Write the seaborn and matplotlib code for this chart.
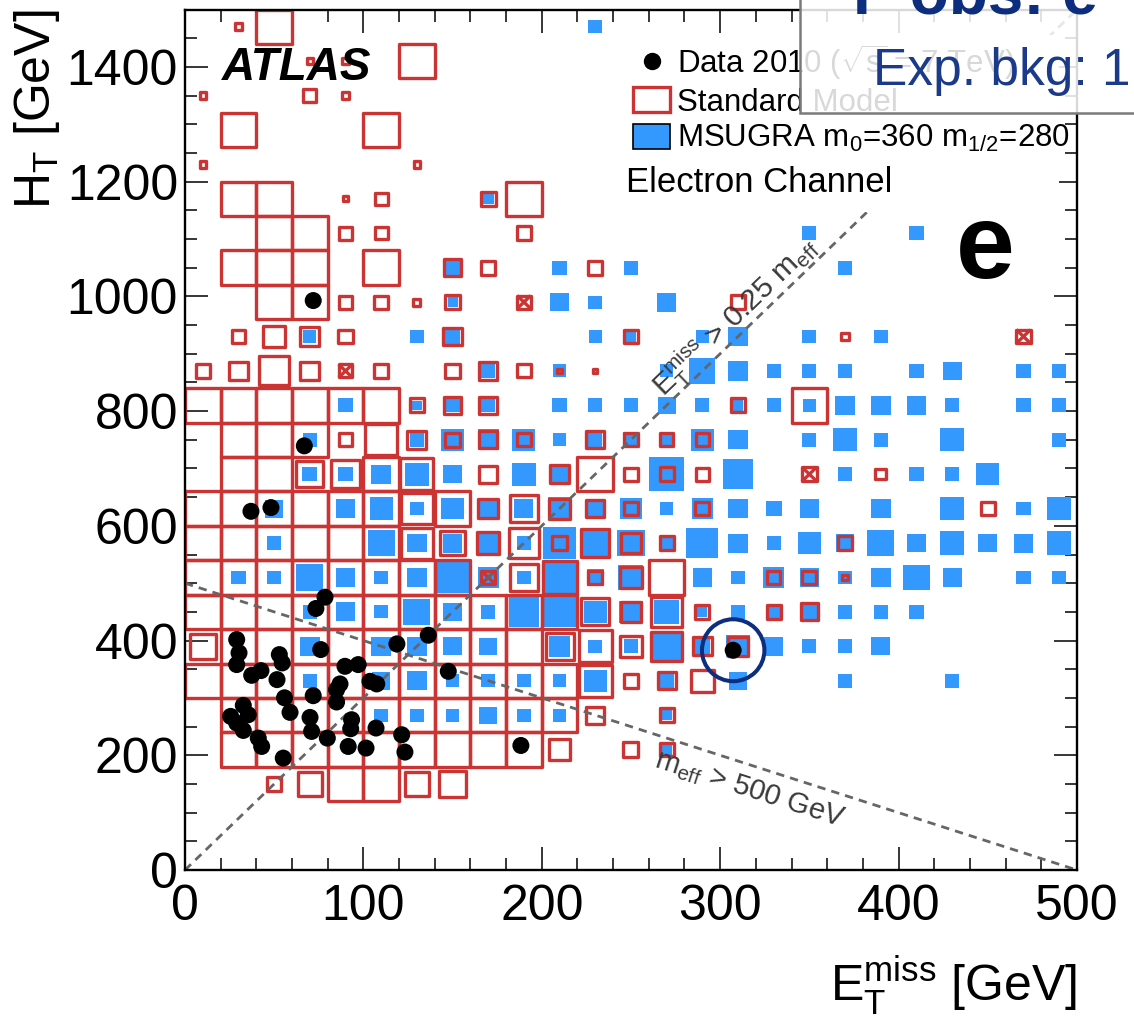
import numpy as np
import pandas as pd
import matplotlib
matplotlib.use("Agg")
import matplotlib.pyplot as plt
from matplotlib.patches import Rectangle, Ellipse, Patch
from matplotlib.lines import Line2D
from matplotlib.collections import PatchCollection, LineCollection
import seaborn as sns

# ---------------------------------------------------------------- binning
met_edges = np.arange(0, 501, 20)      # E_T^miss bins [GeV]
ht_edges = np.arange(0, 1501, 60)      # H_T bins [GeV]

# Relative box size per bin (1 = full bin). Rows listed from the highest
# H_T bin down to the lowest; columns from E_T^miss = 0 to 500 GeV.
# Negative entries are bins with negative content (drawn crossed).
sm_rows = [
    [0, .2, 1, 0, 0, 0, 0, 0, 0, 0, 0, 0, 0, 0, 0, 0, 0, 0, 0, 0, 0, 0, 0, 0, 0],
    [0, 0, 0, .18, .18, 0, 1, 0, 0, 0, 0, 0, 0, 0, 0, 0, 0, 0, 0, 0, 0, 0, 0, 0, 0],
    [.18, 0, 0, .36, .18, 0, 0, 0, 0, 0, 0, 0, 0, 0, 0, 0, 0, 0, 0, 0, 0, 0, 0, 0, 0],
    [0, 1, 0, 0, 0, 1, 0, 0, 0, 0, 0, 0, 0, 0, 0, 0, 0, 0, 0, 0, 0, 0, 0, 0, 0],
    [.18, 0, 0, 0, 0, 0, .18, 0, 0, 0, 0, 0, 0, 0, 0, 0, 0, 0, 0, 0, 0, 0, 0, 0, 0],
    [0, 1, 1, 0, .15, .36, 0, 0, .42, 1, 0, 0, 0, 0, 0, 0, 0, 0, 0, 0, 0, 0, 0, 0, 0],
    [0, 0, 1, 1, .38, .36, 0, 0, 0, .4, 0, 0, 0, 0, 0, 0, 0, 0, 0, 0, 0, 0, 0, 0, 0],
    [0, 1, 1, 1, 0, 1, 0, .49, .4, 0, 0, .4, 0, 0, 0, 0, 0, 0, 0, 0, 0, 0, 0, 0, 0],
    [0, 0, 1, 1, .38, .38, .2, .4, 0, -.38, 0, 0, 0, 0, 0, .42, 0, 0, 0, 0, 0, 0, 0, 0, 0],
    [0, .39, .6, .53, .4, 0, 0, .51, 0, 0, 0, 0, .4, 0, 0, 0, 0, 0, .2, 0, 0, 0, 0, -.4, 0],
    [.39, .51, .84, .53, -.38, .4, 0, .4, .5, .38, .12, .1, 0, 0, 0, 0, 0, 0, 0, 0, 0, 0, 0, 0, 0],
    [1, 1, 1, 1, 1, 1, .4, .5, .5, 0, 0, 0, 0, 0, 0, .4, 0, 1, 0, 0, 0, 0, 0, 0, 0],
    [0, 1, 1, 1, .38, .89, .53, .4, .5, .38, 0, .5, .38, .38, .38, 0, 0, 0, 0, 0, 0, 0, 0, 0, 0],
    [0, 1, 1, .75, .83, 1, .92, 0, .5, 0, .51, 1, .38, .4, .38, 0, 0, -.42, 0, .3, 0, 0, 0, 0, 0],
    [1, 1, 1, 1, 1, 1, .9, 1, .55, .8, .58, .5, .4, 0, .4, 0, 0, 0, 0, 0, 0, 0, .38, 0, 0],
    [1, 1, 1, 1, 1, 1, .9, .7, .62, .86, .4, .79, .56, .4, 0, 0, 0, 0, .39, 0, 0, 0, 0, 0, 0],
    [1, 1, 1, 1, 1, 1, 1, 1, -.4, .8, .95, .39, .6, 1, 0, 0, .38, .4, .15, 0, 0, 0, 0, 0, 0],
    [1, 1, 1, 1, 1, 1, 1, 1, 1, 1, 1, .79, .58, .87, .4, 0, .4, .49, 0, 0, 0, 0, 0, 0, 0],
    [.72, 1, 1, 1, 1, 1, 1, 1, 1, 1, .78, .93, .62, .85, .52, .55, 0, 0, 0, 0, 0, 0, 0, 0, 0],
    [1, 1, 1, 1, 1, 1, 1, 1, 1, 1, 1, .93, .4, .5, .63, 0, 0, 0, 0, 0, 0, 0, 0, 0, 0],
    [0, 1, 1, 1, 1, 1, 1, 1, 1, 1, 1, .5, 0, .4, 0, 0, 0, 0, 0, 0, 0, 0, 0, 0, 0],
    [0, 1, 1, 1, 1, 1, 1, 1, 1, 1, .6, 0, .42, .4, 0, 0, 0, 0, 0, 0, 0, 0, 0, 0, 0],
    [0, 0, .38, .68, 1, 1, .68, .78, 0, 0, 0, 0, 0, 0, 0, 0, 0, 0, 0, 0, 0, 0, 0, 0, 0],
    [0, 0, 0, 0, 0, 0, 0, 0, 0, 0, 0, 0, 0, 0, 0, 0, 0, 0, 0, 0, 0, 0, 0, 0, 0],
    [0, 0, 0, 0, 0, 0, 0, 0, 0, 0, 0, 0, 0, 0, 0, 0, 0, 0, 0, 0, 0, 0, 0, 0, 0],
]

susy_rows = [
    [0, 0, 0, 0, 0, 0, 0, 0, 0, 0, 0, .38, 0, 0, 0, 0, 0, 0, 0, 0, 0, 0, 0, 0, 0],
    [0, 0, 0, 0, 0, 0, 0, 0, 0, 0, 0, 0, 0, 0, 0, 0, 0, 0, 0, 0, 0, 0, 0, 0, 0],
    [0, 0, 0, 0, 0, 0, 0, 0, 0, 0, 0, 0, 0, 0, 0, 0, 0, 0, 0, 0, 0, 0, 0, 0, 0],
    [0, 0, 0, 0, 0, 0, 0, 0, 0, 0, 0, 0, 0, 0, 0, 0, 0, 0, 0, 0, 0, 0, 0, 0, 0],
    [0, 0, 0, 0, 0, 0, 0, 0, 0, 0, 0, 0, 0, 0, 0, 0, 0, 0, 0, 0, 0, 0, 0, 0, 0],
    [0, 0, 0, 0, 0, 0, 0, 0, .3, 0, 0, 0, 0, 0, 0, 0, 0, 0, 0, 0, 0, 0, 0, 0, 0],
    [0, 0, 0, 0, 0, 0, 0, 0, 0, 0, 0, 0, 0, 0, 0, 0, 0, .4, 0, 0, .4, 0, 0, 0, 0],
    [0, 0, 0, 0, 0, 0, 0, .4, 0, 0, .4, 0, .4, 0, 0, 0, 0, 0, .4, 0, 0, 0, 0, 0, 0],
    [0, 0, 0, 0, 0, 0, 0, .28, 0, 0, .52, .38, 0, .55, 0, 0, 0, 0, 0, 0, 0, 0, 0, 0, 0],
    [0, 0, 0, .37, 0, 0, .38, .41, 0, 0, 0, .36, .3, 0, .38, .56, 0, .4, 0, .4, 0, 0, 0, 0, 0],
    [0, 0, 0, 0, 0, 0, 0, 0, .4, 0, .38, 0, 0, .38, .73, .56, .4, .4, .4, 0, .4, .53, 0, .4, .4],
    [0, 0, 0, 0, .4, 0, .28, .4, .4, 0, .4, .4, .4, .5, .4, .3, .4, .38, .55, .55, .55, .4, 0, .4, .4],
    [0, 0, 0, .4, 0, 0, .4, .65, .6, .64, .38, .4, .47, .3, .65, .55, 0, .4, .67, .4, 0, .68, 0, 0, .4],
    [0, 0, 0, .42, .4, .56, .67, .53, 0, .67, .45, 0, 0, 1, 0, .86, 0, 0, .4, 0, .4, .4, .64, 0, 0],
    [0, 0, .52, 0, .54, .65, .4, .63, .5, .53, .65, .45, .6, .38, .6, .55, .45, .54, 0, .55, 0, .65, 0, .4, .68],
    [0, 0, .38, 0, 0, .75, .54, .55, .55, .38, .93, .8, .78, .4, .89, .55, .4, .64, .51, .76, .54, .68, .53, .55, .68],
    [0, .4, .4, .76, .54, .38, .54, .93, .6, .38, .9, .47, .7, 0, .53, .4, .6, .54, .38, .55, .75, .53, 0, .4, .4],
    [0, 0, 0, .4, .55, .38, .75, .53, .4, .86, .9, .65, .65, .7, .28, .4, .4, .45, .4, .4, .4, 0, 0, 0, 0],
    [0, 0, 0, .56, 0, .55, .54, .53, .5, 0, .6, .38, .4, .78, .45, .65, .55, .4, .4, .53, 0, 0, 0, 0, 0],
    [0, 0, 0, .4, 0, .52, .54, .38, .38, .38, .38, .65, 0, .4, 0, .53, 0, 0, .4, 0, 0, .4, 0, 0, 0],
    [0, 0, 0, 0, 0, .38, .38, .38, .5, .38, .38, 0, 0, .3, 0, 0, 0, 0, 0, 0, 0, 0, 0, 0, 0],
    [0, 0, 0, 0, 0, 0, 0, 0, 0, 0, 0, 0, 0, .3, 0, 0, 0, 0, 0, 0, 0, 0, 0, 0, 0],
    [0, 0, 0, 0, 0, 0, 0, 0, 0, 0, 0, 0, 0, 0, 0, 0, 0, 0, 0, 0, 0, 0, 0, 0, 0],
    [0, 0, 0, 0, 0, 0, 0, 0, 0, 0, 0, 0, 0, 0, 0, 0, 0, 0, 0, 0, 0, 0, 0, 0, 0],
    [0, 0, 0, 0, 0, 0, 0, 0, 0, 0, 0, 0, 0, 0, 0, 0, 0, 0, 0, 0, 0, 0, 0, 0, 0],
]

# Selected electron-channel events (E_T^miss, H_T) in GeV
data_met = [71.9, 66.9, 37.0, 48.2, 78.5, 73.4, 29.0, 30.3, 29.0, 37.4,
            42.6, 52.9, 54.5, 51.6, 55.8, 58.9, 32.7, 25.6, 35.5, 29.0,
            32.7, 41.1, 43.0, 55.1, 76.1, 71.9, 70.1, 71.0, 79.8, 89.7,
            97.1, 86.9, 85.0, 85.0, 93.4, 92.9, 91.5, 101.5, 103.7, 107.5,
            107.1, 118.8, 121.5, 123.3, 136.4, 147.6, 188.3, 307.3]
data_ht = [992.7, 739.4, 625.3, 631.8, 475.6, 455.9, 401.7, 378.5, 358.1, 339.4,
           347.6, 375.5, 361.0, 331.9, 300.2, 274.8, 287.0, 267.8, 270.7, 256.2,
           243.3, 230.0, 215.4, 195.1, 384.3, 303.9, 266.0, 241.6, 230.0, 355.1,
           358.1, 324.4, 314.4, 292.9, 262.0, 246.3, 215.4, 212.6, 328.9, 324.4,
           247.5, 394.2, 235.8, 205.6, 409.3, 346.4, 217.1, 383.1]
highlighted_event = 47          # event marked with a circle

met_fraction_cut = 0.25         # E_T^miss > 0.25 m_eff
meff_cut = 500.0                # m_eff > 500 GeV

legend_labels = [r"Data 2010 ($\mathregular{\sqrt{s}}$ = 7 TeV)",
                 "Standard Model",
                 r"MSUGRA m$\mathregular{_{0}}$=360 m$\mathregular{_{1/2}}$=280"]

# ---------------------------------------------------------------- style
RED = "#cc3333"
BLUE = "#3399ff"
NAVY = "#0d2d7e"

sns.set_theme(style="ticks")
plt.rcParams["font.family"] = ["Liberation Sans", "DejaVu Sans"]
plt.rcParams["mathtext.fontset"] = "custom"
plt.rcParams["mathtext.rm"] = "Liberation Sans"
plt.rcParams["mathtext.it"] = "Liberation Sans:italic"
plt.rcParams["mathtext.bf"] = "Liberation Sans:bold"
for key in ("text.color", "axes.labelcolor", "xtick.color", "ytick.color",
            "axes.edgecolor"):
    plt.rcParams[key] = "black"

fig = plt.figure(figsize=(11.34, 10.25), dpi=100)
ax = fig.add_axes([0.1631, 0.1512, 0.7866, 0.8395])
ax.set_xlim(met_edges[0], met_edges[-1])
ax.set_ylim(ht_edges[0], ht_edges[-1])


def bin_boxes(rows):
    grid = np.array(rows, dtype=float)[::-1]
    rects, crosses = [], []
    for j in range(grid.shape[0]):
        for i in range(grid.shape[1]):
            v = grid[j, i]
            if v == 0:
                continue
            bw = met_edges[i + 1] - met_edges[i]
            bh = ht_edges[j + 1] - ht_edges[j]
            cx = met_edges[i] + bw / 2
            cy = ht_edges[j] + bh / 2
            w, h = abs(v) * bw, abs(v) * bh
            rects.append(Rectangle((cx - w / 2, cy - h / 2), w, h))
            if v < 0:
                crosses.append([(cx - w / 2, cy - h / 2), (cx + w / 2, cy + h / 2)])
                crosses.append([(cx - w / 2, cy + h / 2), (cx + w / 2, cy - h / 2)])
    return rects, crosses


susy_rects, _ = bin_boxes(susy_rows)
ax.add_collection(PatchCollection(susy_rects, facecolor=BLUE, edgecolor="none",
                                  zorder=1))
sm_rects, sm_cross = bin_boxes(sm_rows)
ax.add_collection(PatchCollection(sm_rects, facecolor="none", edgecolor=RED,
                                  linewidth=2.4, zorder=2))
ax.add_collection(LineCollection(sm_cross, colors=RED, linewidths=2.4, zorder=2))

# ---------------------------------------------------------------- cut lines
met_line = np.array([met_edges[0], met_edges[-1]], dtype=float)
ht_frac = met_line * (1 - met_fraction_cut) / met_fraction_cut
ht_meff = meff_cut - met_line
for yy in (ht_frac, ht_meff):
    ax.plot(met_line, yy, color="#666666", lw=2.0, ls=(0, (3.0, 2.2)), zorder=3)

# legend background
ax.add_patch(Rectangle((0.49, 0.765), 0.49, 0.205, transform=ax.transAxes,
                       facecolor="white", edgecolor="none", zorder=4))

# ---------------------------------------------------------------- data
events = pd.DataFrame({"met": data_met, "ht": data_ht})
sns.scatterplot(data=events, x="met", y="ht", color="black", s=150,
                edgecolor="none", zorder=10, legend=False, ax=ax)

hx, hy = data_met[highlighted_event], data_ht[highlighted_event]
ax.add_patch(Ellipse((hx, hy), width=35, height=108, facecolor="none",
                     edgecolor=NAVY, lw=2.9, zorder=11))

# ---------------------------------------------------------------- axes
ax.set_xticks(np.arange(0, 501, 100))
ax.set_yticks(np.arange(0, 1401, 200))
ax.set_xticks(np.arange(0, 501, 20), minor=True)
ax.set_yticks(np.arange(0, 1501, 50), minor=True)
ax.tick_params(which="both", direction="in", top=True, right=True,
               width=1.1, color="black", labelsize=36, labelcolor="black")
ax.tick_params(which="major", length=16.5)
ax.tick_params(which="minor", length=8.6)
ax.tick_params(axis="x", which="major", pad=10)
ax.tick_params(axis="y", which="major", pad=5)
for sp in ax.spines.values():
    sp.set_linewidth(1.7)
    sp.set_color("black")
    sp.set_zorder(12)

ax.set_xlabel(r"$\mathregular{E_{T}^{miss}}$ [GeV]", fontsize=36, loc="right",
              color="black")
ax.xaxis.set_label_coords(1.0, -0.098)
ax.set_ylabel(r"$\mathregular{H_{T}}$ [GeV]", fontsize=36, loc="top", color="black")
ax.yaxis.set_label_coords(-0.138, 1.0)

# ---------------------------------------------------------------- labels
fig.canvas.draw()
ang_frac = ax.transData.transform_angles(
    np.array([np.degrees(np.arctan((1 - met_fraction_cut) / met_fraction_cut))]),
    np.array([[300.0, 900.0]]))[0]
ang_meff = ax.transData.transform_angles(np.array([-45.0]),
                                         np.array([[300.0, 200.0]]))[0]
ax.text(308.5, 965, r"$\mathregular{E_{T}^{miss}}$ > 0.25 $\mathregular{m_{eff}}$",
        fontsize=21.5, color="#3a3a3a", rotation=ang_frac, rotation_mode="anchor",
        ha="center", va="center", zorder=6)
ax.text(316.7, 141, r"$\mathregular{m_{eff}}$ > 500 GeV", fontsize=21,
        color="#3a3a3a", rotation=ang_meff, rotation_mode="anchor",
        ha="center", va="center", zorder=6)

ax.text(0.0415, 0.9326, "ATLAS", transform=ax.transAxes, fontsize=33,
        fontweight="bold", fontstyle="italic", color="black",
        va="center", ha="left", zorder=6)
ax.text(0.4944, 0.7988, "Electron Channel", transform=ax.transAxes, fontsize=25,
        color="black", va="center", ha="left", zorder=6)
ax.text(0.897, 0.688, "e", transform=ax.transAxes, fontsize=76, color="black",
        fontweight="bold", va="baseline", ha="center", zorder=6)

handles = [Line2D([], [], marker="o", color="black", linestyle="none", markersize=11.5),
           Patch(facecolor="white", edgecolor=RED, lw=2.4),
           Patch(facecolor=BLUE, edgecolor="black", lw=1.2)]
leg = ax.legend(handles, legend_labels, loc="upper left",
                bbox_to_anchor=(0.5022, 0.962), frameon=False, fontsize=22.5,
                handlelength=1.2, handleheight=0.85, handletextpad=0.2,
                labelspacing=0.17, borderaxespad=0, borderpad=0)
for t in leg.get_texts():
    t.set_color("black")
leg.set_zorder(7)

# ---------------------------------------------------------------- overlay box
fig.add_artist(Rectangle((0.7055, 0.8898), 0.4, 0.2, transform=fig.transFigure,
                         facecolor=(1, 1, 1, 0.85), edgecolor="#7a7a7a",
                         lw=1.8, zorder=20))
fig.text(0.752, 1 - 13 / 1025, "F obs: e", fontsize=46, fontweight="bold",
         color=NAVY, va="baseline", ha="left", zorder=21)
fig.text(0.7698, 1 - 85 / 1025, "Exp. bkg: 1", fontsize=37, color="#1b3a8a",
         va="baseline", ha="left", zorder=21)

fig.savefig("out.png", dpi=100)
